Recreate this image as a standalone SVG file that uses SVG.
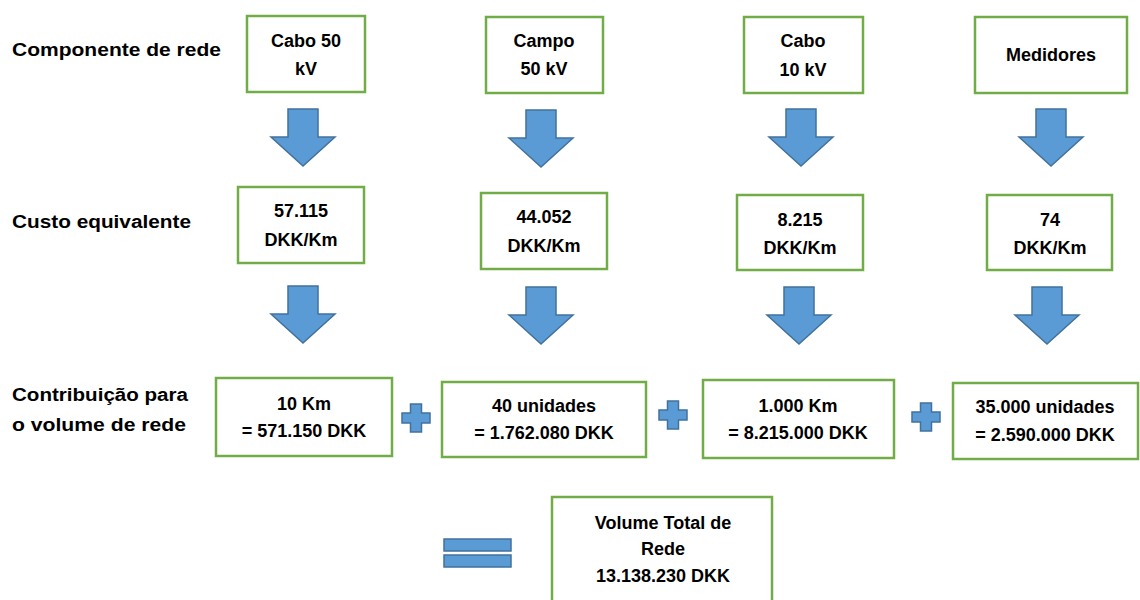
<svg xmlns="http://www.w3.org/2000/svg" width="1140" height="600" viewBox="0 0 1140 600">
  <style>
    .box { fill: #ffffff; stroke: #70AD47; stroke-width: 2.5; }
    .txt { font-family: "Liberation Sans", Arial, sans-serif; font-weight: bold; font-size: 18px; fill: #000000; text-anchor: middle; }
    .lbl { font-family: "Liberation Sans", Arial, sans-serif; font-weight: bold; font-size: 18px; fill: #000000; }
    .shape { fill: #5B9BD5; stroke: #41719C; stroke-width: 1.5; stroke-linejoin: miter; }
  </style>
  <defs>
    <path id="down" d="M-15,0 H15 V28 H32 L0,57 L-32,28 H-15 Z"/>
    <path id="plus" d="M-5.5,-14 H5.5 V-5 H14 V5 H5.5 V14 H-5.5 V5 H-14 V-5 H-5.5 Z"/>
  </defs>
  <rect width="1140" height="600" fill="#ffffff"/>

  <!-- row labels -->
  <g id="labels">
    <text class="lbl" x="12" y="56" textLength="209" lengthAdjust="spacingAndGlyphs">Componente de rede</text>
    <text class="lbl" x="12" y="228" textLength="179" lengthAdjust="spacingAndGlyphs">Custo equivalente</text>
    <text class="lbl" x="12" y="401" textLength="176" lengthAdjust="spacingAndGlyphs">Contribuição para</text>
    <text class="lbl" x="12" y="431" textLength="174" lengthAdjust="spacingAndGlyphs">o volume de rede</text>
  </g>

  <!-- network components -->
  <g id="comp-cabo50">
    <rect class="box" x="247" y="16" width="118" height="76"/>
    <text class="txt" x="306" y="47">Cabo 50</text>
    <text class="txt" x="306" y="75">kV</text>
  </g>
  <g id="comp-campo50">
    <rect class="box" x="486" y="17" width="117" height="76"/>
    <text class="txt" x="544" y="47">Campo</text>
    <text class="txt" x="544" y="75">50 kV</text>
  </g>
  <g id="comp-cabo10">
    <rect class="box" x="744" y="17" width="119" height="76"/>
    <text class="txt" x="803" y="47">Cabo</text>
    <text class="txt" x="803" y="76">10 kV</text>
  </g>
  <g id="comp-medidores">
    <rect class="box" x="975" y="17" width="152" height="76"/>
    <text class="txt" x="1051" y="61">Medidores</text>
  </g>

  <!-- equivalent cost -->
  <g id="cost-cabo50">
    <rect class="box" x="238" y="187" width="126" height="76"/>
    <text class="txt" x="301" y="217">57.115</text>
    <text class="txt" x="301" y="246">DKK/Km</text>
  </g>
  <g id="cost-campo50">
    <rect class="box" x="481" y="193" width="126" height="76"/>
    <text class="txt" x="544" y="223">44.052</text>
    <text class="txt" x="544" y="252">DKK/Km</text>
  </g>
  <g id="cost-cabo10">
    <rect class="box" x="737" y="195" width="126" height="75"/>
    <text class="txt" x="800" y="226">8.215</text>
    <text class="txt" x="800" y="254">DKK/Km</text>
  </g>
  <g id="cost-medidores">
    <rect class="box" x="987" y="195" width="125" height="75"/>
    <text class="txt" x="1050" y="226">74</text>
    <text class="txt" x="1050" y="254">DKK/Km</text>
  </g>

  <!-- contribution to network volume -->
  <g id="vol-cabo50">
    <rect class="box" x="216" y="378" width="176" height="78"/>
    <text class="txt" x="304" y="410">10 Km</text>
    <text class="txt" x="304" y="437">= 571.150 DKK</text>
  </g>
  <g id="vol-campo50">
    <rect class="box" x="442" y="382" width="204" height="75"/>
    <text class="txt" x="544" y="412">40 unidades</text>
    <text class="txt" x="544" y="439">= 1.762.080 DKK</text>
  </g>
  <g id="vol-cabo10">
    <rect class="box" x="703" y="380" width="191" height="78"/>
    <text class="txt" x="798" y="412">1.000 Km</text>
    <text class="txt" x="798" y="439">= 8.215.000 DKK</text>
  </g>
  <g id="vol-medidores">
    <rect class="box" x="953" y="383" width="185" height="76"/>
    <text class="txt" x="1045" y="413">35.000 unidades</text>
    <text class="txt" x="1045" y="441">= 2.590.000 DKK</text>
  </g>

  <!-- total -->
  <g id="total">
    <rect class="box" x="552" y="497" width="220" height="110"/>
    <text class="txt" x="663" y="529">Volume Total de</text>
    <text class="txt" x="663" y="555">Rede</text>
    <text class="txt" x="663" y="582">13.138.230 DKK</text>
  </g>

  <!-- block arrows and operators -->
  <g id="connectors">
    <use href="#down" class="shape" x="303" y="109"/>
    <use href="#down" class="shape" x="541" y="110"/>
    <use href="#down" class="shape" x="801" y="109"/>
    <use href="#down" class="shape" x="1051" y="109"/>
    <use href="#down" class="shape" x="303" y="286"/>
    <use href="#down" class="shape" x="541" y="287"/>
    <use href="#down" class="shape" x="799" y="287"/>
    <use href="#down" class="shape" x="1047" y="287"/>
    <use href="#plus" class="shape" x="416" y="418"/>
    <use href="#plus" class="shape" x="673" y="415"/>
    <use href="#plus" class="shape" x="926" y="417"/>
    <rect class="shape" x="444" y="539" width="67" height="12"/>
    <rect class="shape" x="444" y="555" width="67" height="12"/>
  </g>
</svg>
